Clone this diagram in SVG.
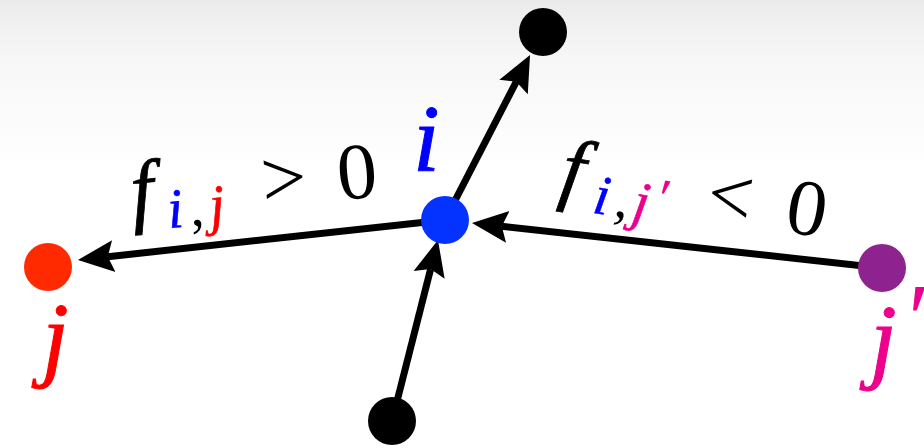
<svg xmlns="http://www.w3.org/2000/svg" width="924" height="448" viewBox="0 0 924 448">
  <defs>
    <linearGradient id="bg" x1="0" y1="0" x2="0" y2="1">
      <stop offset="0" stop-color="#ebebeb"/>
      <stop offset="0.35" stop-color="#f7f7f7"/>
      <stop offset="1" stop-color="#ffffff"/>
    </linearGradient>
    <marker id="head" markerUnits="userSpaceOnUse" markerWidth="40" markerHeight="36" viewBox="0 -18 40 36" refX="6" refY="0" orient="auto">
      <path d="M36,0 L0,-16 L6,0 L0,16 Z" fill="#000"/>
    </marker>
    <style>
      .edge { stroke: #000; stroke-width: 7; fill: none; marker-end: url(#head); }
    </style>
  </defs>
  <rect width="924" height="448" fill="#ffffff"/>
  <rect width="924" height="170" fill="url(#bg)"/>

  <g id="connectors">
    <line class="edge" x1="445" y1="220" x2="516.3" y2="81.7"/>
    <line class="edge" x1="392" y1="421" x2="430.6" y2="269.1"/>
    <line class="edge" x1="882" y1="268" x2="501.8" y2="226.3"/>
    <line class="edge" x1="445" y1="220" x2="107.8" y2="256.7"/>
  </g>

  <g id="node-top"><circle cx="543" cy="32" r="24" fill="#000"/></g>
  <g id="node-bottom"><circle cx="392" cy="421" r="24" fill="#000"/></g>
  <g id="node-i" font-family="Liberation Serif, serif" font-style="italic">
    <circle cx="445" cy="220" r="24" fill="#0433ff"/>
    <text x="413" y="171" font-size="96" fill="#0000ff" stroke="#0000ff" stroke-width="1">i</text>
  </g>
  <g id="node-j" font-family="Liberation Serif, serif" font-style="italic">
    <circle cx="48" cy="267" r="24" fill="#ff2a00"/>
    <text x="42" y="369" font-size="96" fill="#ff0000" stroke="#ff0000" stroke-width="1">j</text>
  </g>
  <g id="node-jprime" font-family="Liberation Serif, serif" font-style="italic">
    <circle cx="882" cy="268" r="24" fill="#8e2390"/>
    <text x="870" y="371" font-size="96" fill="#ec008c" stroke="#ec008c" stroke-width="1">j</text>
    <text x="902" y="352" font-size="100" fill="#ec008c">′</text>
  </g>

  <g id="label-left" font-family="Liberation Serif, serif" transform="rotate(-5 133 218)">
    <text x="133" y="218" font-size="82" font-style="italic" fill="#000" stroke="#000" stroke-width="0.8">f</text>
    <text x="168" y="231" font-size="56" font-style="italic" fill="#0000ff" stroke="#0000ff" stroke-width="0.6">i</text>
    <text x="190" y="231" font-size="56" fill="#000">,</text>
    <text x="210" y="231" font-size="56" font-style="italic" fill="#ff0000" stroke="#ff0000" stroke-width="0.6">j</text>
    <text x="264" y="218" font-size="80" fill="#000">&gt;</text>
    <text x="340" y="218" font-size="80" fill="#000">0</text>
  </g>

  <g id="label-right" font-family="Liberation Serif, serif" transform="rotate(9.5 560 194)">
    <text x="558" y="194" font-size="82" font-style="italic" fill="#000" stroke="#000" stroke-width="0.8">f</text>
    <text x="594" y="207" font-size="56" font-style="italic" fill="#0000ff" stroke="#0000ff" stroke-width="0.6">i</text>
    <text x="616" y="207" font-size="56" fill="#000">,</text>
    <text x="634" y="207" font-size="56" font-style="italic" fill="#ec008c" stroke="#ec008c" stroke-width="0.6">j</text>
    <text x="654" y="200" font-size="56" font-style="italic" fill="#ec008c">′</text>
    <text x="706" y="194" font-size="80" fill="#000">&lt;</text>
    <text x="786" y="194" font-size="80" fill="#000">0</text>
  </g>
</svg>
